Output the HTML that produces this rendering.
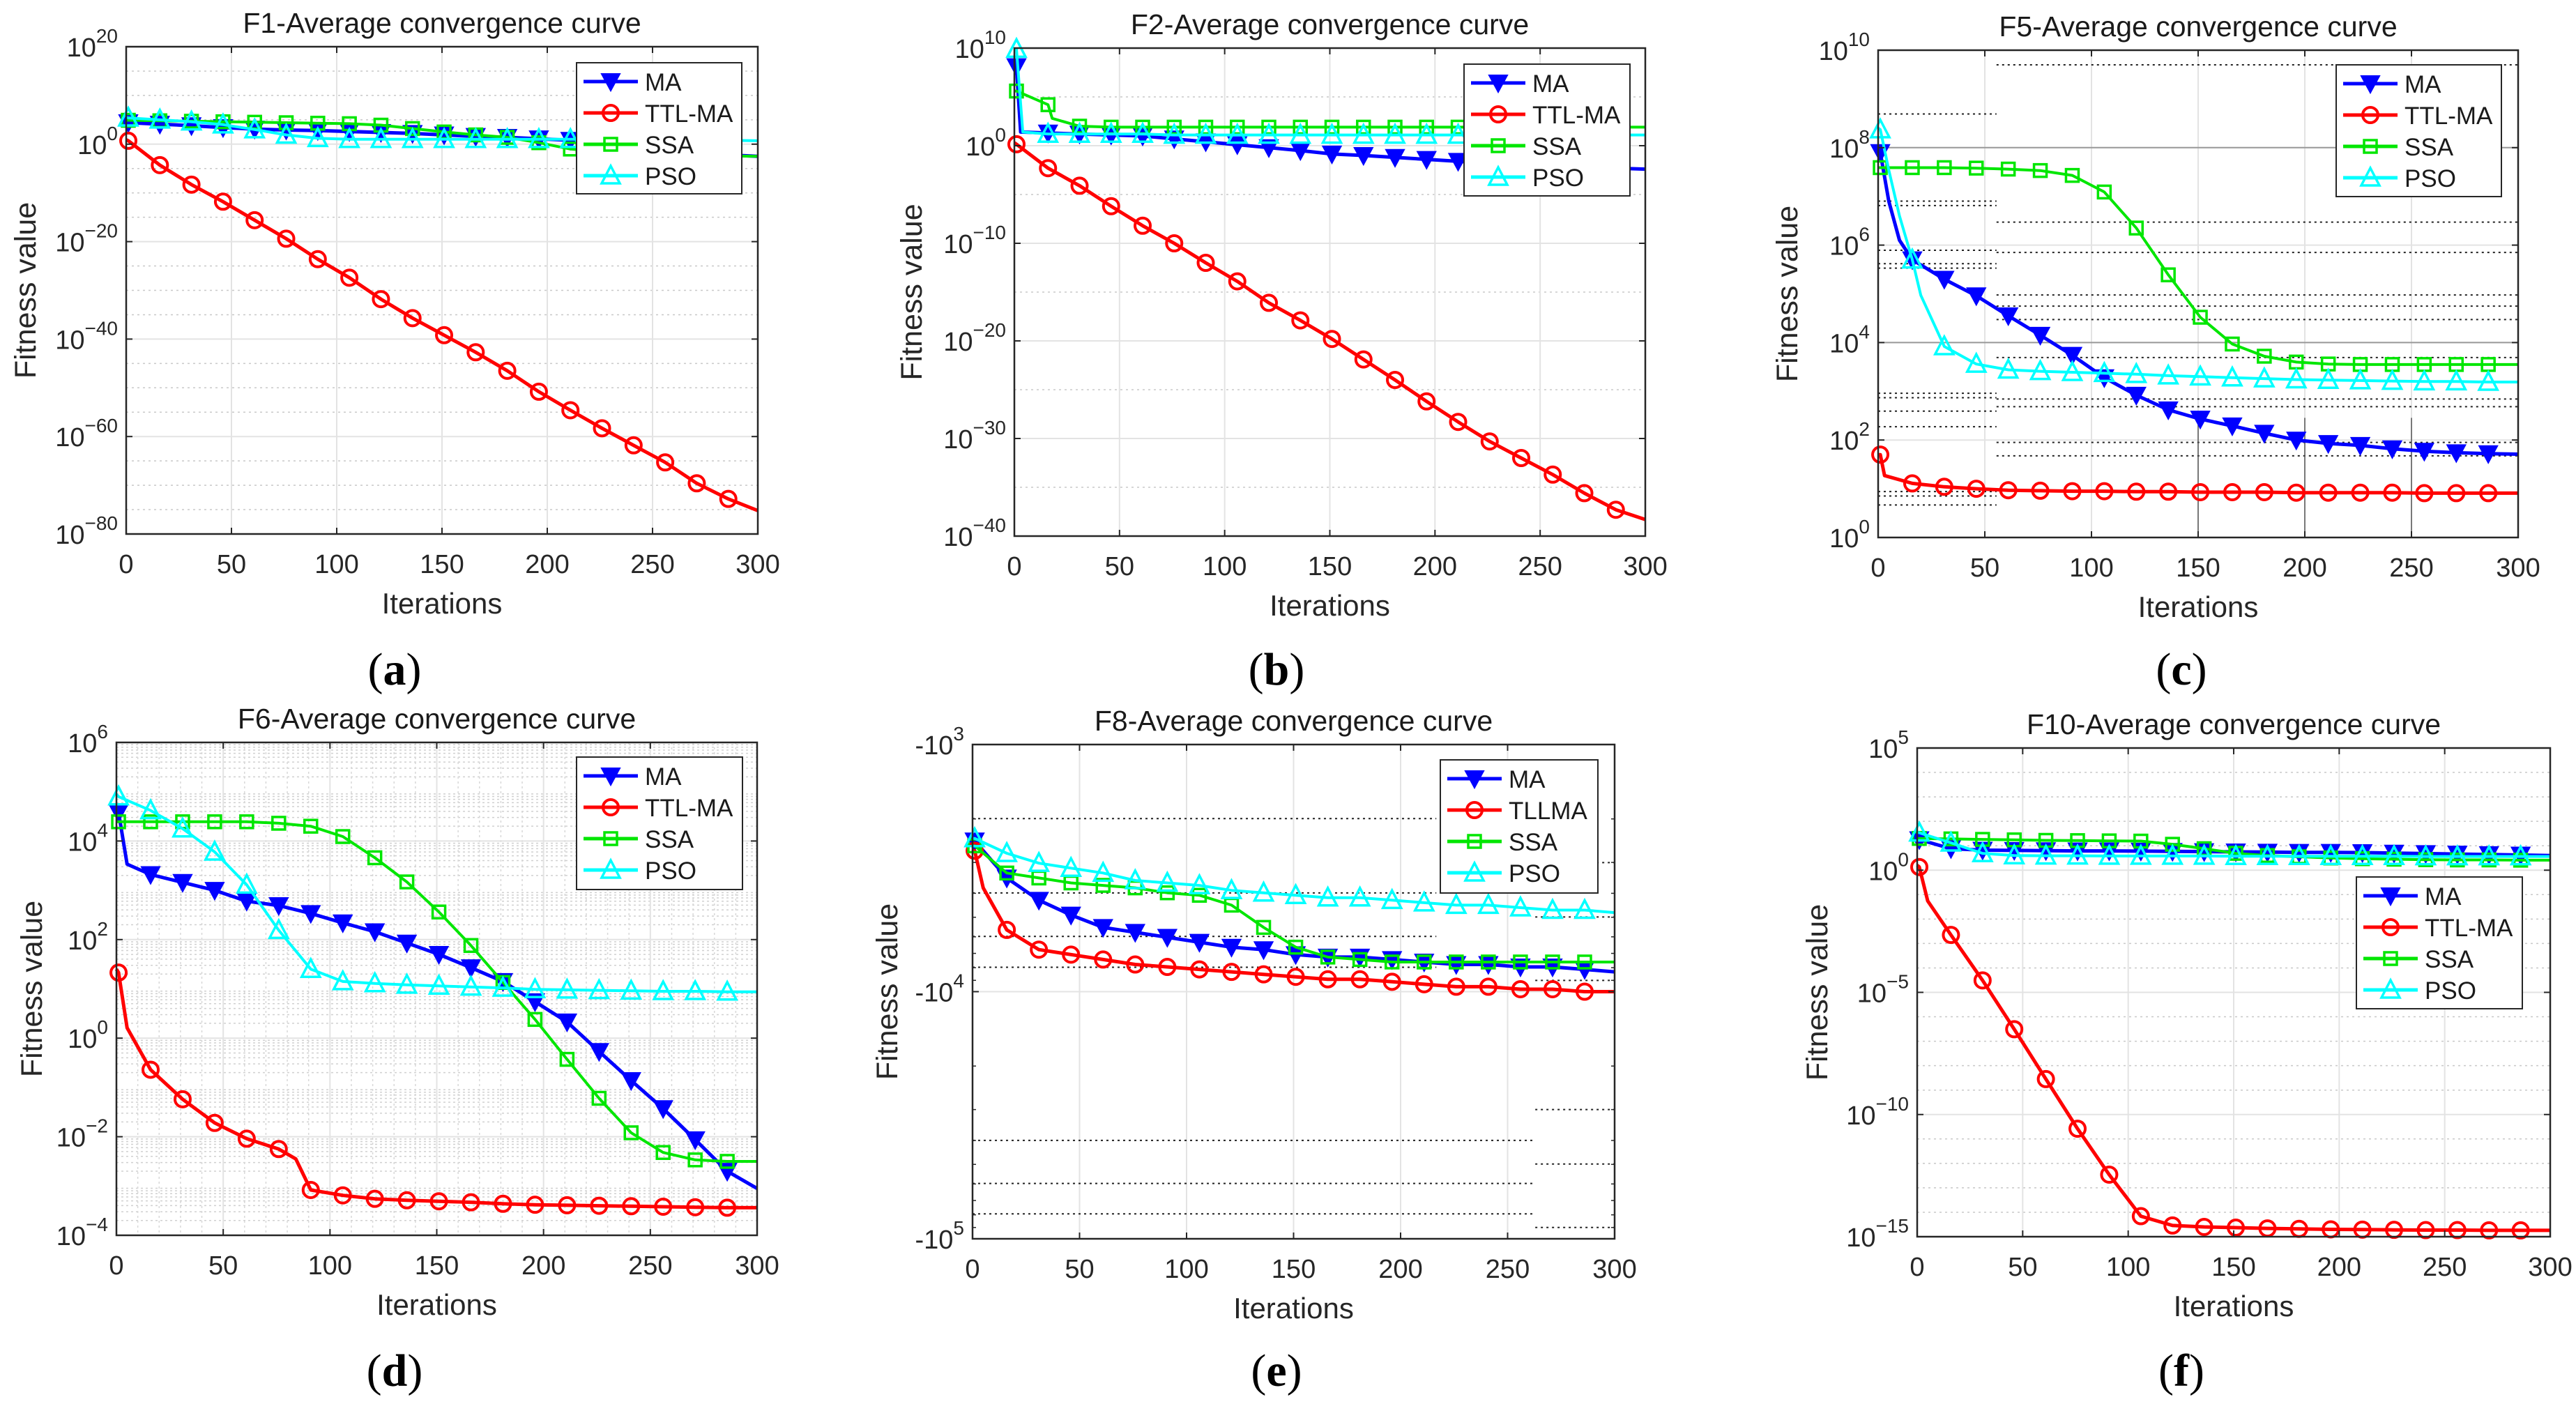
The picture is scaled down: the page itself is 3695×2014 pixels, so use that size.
<!DOCTYPE html>
<html><head><meta charset="utf-8"><title>Average convergence curves</title>
<style>html,body{margin:0;padding:0;background:#fff}svg{display:block}</style></head>
<body>
<svg id="fig" xmlns="http://www.w3.org/2000/svg" width="3695" height="2014" viewBox="0 0 3695 2014" font-family="'Liberation Sans', Arial, sans-serif"></svg>
<script>
// ===== DATA (log10 of fitness value; for F8 log10 of |value|, value is negative) =====
const xTicks = [0,50,100,150,200,250,300];
const seriesNames = ["MA","TTL-MA","SSA","PSO"];
const seriesNamesE = ["MA","TLLMA","SSA","PSO"];

// F1
const a_ma_x  = [0,1,16,31,46,61,76,91,106,121,136,151,166,181,196,211,226,241,256,271,286,300];
const a_ma_y  = [4.5,4.4,4.1,3.8,3.4,3.1,2.9,2.8,2.6,2.4,2.2,1.9,1.6,1.4,1.1,0.8,0.3,-0.5,-1.2,-1.8,-2.2,-2.5];
const a_ttl_x = [0,1,16,31,46,61,76,91,106,121,136,151,166,181,196,211,226,241,256,271,286,300];
const a_ttl_y = [0.9,0.7,-4.3,-8.3,-11.8,-15.6,-19.4,-23.6,-27.4,-31.8,-35.7,-39.2,-42.7,-46.5,-50.8,-54.6,-58.3,-61.8,-65.3,-69.6,-72.8,-75.2];
const a_ssa_x = [0,1,16,31,46,61,76,91,106,121,136,151,166,181,196,211,226,241,256,271,286,300];
const a_ssa_y = [4.9,4.9,4.8,4.7,4.6,4.5,4.4,4.3,4.2,3.9,3.2,2.5,1.9,1.4,0.3,-1.0,-1.6,-2.0,-2.2,-2.3,-2.4,-2.5];
const a_pso_x = [0,1,16,31,46,61,76,91,106,121,136,151,166,181,196,211,226,241,256,271,286,300];
const a_pso_y = [5.5,5.4,5.0,4.6,4.0,3.0,1.9,1.2,1.0,1.0,1.0,1.0,1.0,1.0,1.0,1.0,1.0,0.9,0.9,0.8,0.8,0.7];
// F2
const b_ma_x  = [0,1,3,16,31,46,61,76,91,106,121,136,151,166,181,196,211,226,241,256,271,286,300];
const b_ma_y  = [8.5,8.1,1.4,1.3,1.2,1.1,1.0,0.7,0.4,0.1,-0.2,-0.5,-0.85,-1.0,-1.2,-1.4,-1.6,-1.8,-2.0,-2.1,-2.2,-2.3,-2.4];
const b_ttl_x = [0,1,16,31,46,61,76,91,106,121,136,151,166,181,196,211,226,241,256,271,286,300];
const b_ttl_y = [0.3,0.15,-2.3,-4.1,-6.2,-8.2,-10.0,-12.0,-13.9,-16.1,-17.9,-19.8,-21.9,-24.0,-26.2,-28.3,-30.3,-32.0,-33.7,-35.6,-37.3,-38.3];
const b_ssa_x = [0,1,16,18,31,46,61,76,91,106,121,136,151,166,181,196,211,226,241,256,271,286,300];
const b_ssa_y = [5.6,5.6,4.2,2.8,2.0,1.9,1.9,1.9,1.9,1.9,1.9,1.9,1.9,1.9,1.9,1.9,1.9,1.9,1.9,1.9,1.9,1.9,1.9];
const b_pso_x = [0,1,4,16,31,46,61,76,91,106,121,136,151,166,181,196,211,226,241,256,271,286,300];
const b_pso_y = [9.9,9.9,1.4,1.2,1.2,1.2,1.2,1.1,1.1,1.1,1.1,1.1,1.1,1.1,1.1,1.1,1.1,1.1,1.1,1.1,1.1,1.1,1.1];
// F5
const c_ma_x  = [0,1,5,10,16,31,46,61,76,91,106,121,136,151,166,181,196,211,226,241,256,271,286,300];
const c_ma_y  = [8.0,7.9,6.9,6.1,5.7,5.3,4.96,4.55,4.15,3.74,3.28,2.92,2.62,2.43,2.29,2.14,2.0,1.93,1.89,1.82,1.77,1.74,1.72,1.71];
const c_ttl_x = [0,1,3,16,31,46,61,76,91,106,121,136,151,166,181,196,211,226,241,256,271,286,300];
const c_ttl_y = [1.7,1.7,1.27,1.11,1.04,1.0,0.97,0.96,0.95,0.95,0.94,0.94,0.93,0.93,0.93,0.92,0.92,0.92,0.92,0.91,0.91,0.91,0.91];
const c_ssa_x = [0,1,16,31,46,61,76,91,106,121,136,151,166,181,196,211,226,241,256,271,286,300];
const c_ssa_y = [7.59,7.59,7.59,7.59,7.58,7.56,7.53,7.43,7.09,6.35,5.39,4.52,3.97,3.72,3.6,3.56,3.55,3.55,3.55,3.55,3.55,3.55];
const c_pso_x = [0,1,5,10,16,20,31,46,61,76,91,106,121,136,151,166,181,196,211,226,241,256,271,286,300];
const c_pso_y = [8.4,8.37,7.54,6.6,5.7,4.97,3.92,3.56,3.44,3.41,3.39,3.37,3.35,3.32,3.3,3.28,3.26,3.24,3.23,3.22,3.21,3.2,3.2,3.19,3.19];
// F6
const d_ma_x  = [0,1,5,16,31,46,61,76,91,106,121,136,151,166,181,196,211,226,241,256,271,286,300];
const d_ma_y  = [4.6,4.58,3.53,3.32,3.16,3.0,2.78,2.69,2.53,2.34,2.16,1.93,1.7,1.43,1.15,0.74,0.33,-0.27,-0.86,-1.43,-2.06,-2.7,-3.05];
const d_ttl_x = [0,1,5,16,31,46,61,76,84,91,106,121,136,151,166,181,196,211,226,241,256,271,286,300];
const d_ttl_y = [1.4,1.33,0.21,-0.64,-1.24,-1.72,-2.04,-2.25,-2.45,-3.08,-3.19,-3.26,-3.29,-3.31,-3.33,-3.36,-3.38,-3.39,-3.4,-3.41,-3.42,-3.43,-3.44,-3.44];
const d_ssa_x = [0,1,16,31,46,61,76,91,106,121,136,151,166,181,196,211,226,241,256,271,286,300];
const d_ssa_y = [4.39,4.39,4.39,4.39,4.39,4.39,4.36,4.3,4.09,3.66,3.17,2.56,1.88,1.13,0.38,-0.43,-1.22,-1.92,-2.32,-2.47,-2.5,-2.5];
const d_pso_x = [0,1,16,31,46,61,76,91,106,121,136,151,166,181,196,211,226,241,256,271,286,300];
const d_pso_y = [4.95,4.9,4.62,4.25,3.78,3.11,2.19,1.4,1.15,1.11,1.08,1.06,1.04,1.02,0.99,0.98,0.97,0.96,0.95,0.95,0.94,0.94];
// F8 (log10 of |fitness|)
const e_ma_x  = [0,1,16,31,46,61,76,91,106,121,136,151,166,181,196,211,226,241,256,271,286,300];
const e_ma_y  = [3.39,3.39,3.54,3.63,3.69,3.74,3.76,3.78,3.8,3.82,3.83,3.85,3.86,3.86,3.87,3.88,3.89,3.89,3.9,3.9,3.91,3.92];
const e_ttl_x = [0,1,5,16,31,46,61,76,91,106,121,136,151,166,181,196,211,226,241,256,271,286,300];
const e_ttl_y = [3.43,3.43,3.58,3.75,3.83,3.85,3.87,3.89,3.9,3.91,3.92,3.93,3.94,3.95,3.95,3.96,3.97,3.98,3.98,3.99,3.99,4.0,4.0];
const e_ssa_x = [0,1,16,31,46,61,76,91,106,121,136,151,166,181,196,211,226,241,256,271,286,300];
const e_ssa_y = [3.41,3.41,3.52,3.54,3.56,3.57,3.58,3.6,3.61,3.65,3.74,3.82,3.86,3.87,3.88,3.88,3.88,3.88,3.88,3.88,3.88,3.88];
const e_pso_x = [0,1,16,31,46,61,76,91,106,121,136,151,166,181,196,211,226,241,256,271,286,300];
const e_pso_y = [3.38,3.38,3.44,3.48,3.5,3.52,3.55,3.56,3.57,3.59,3.6,3.61,3.62,3.62,3.63,3.64,3.65,3.65,3.66,3.67,3.67,3.68];
// F10
const f_ma_x  = [0,1,16,31,46,61,76,91,106,121,136,151,166,181,196,211,226,241,256,271,286,300];
const f_ma_y  = [1.25,1.25,0.88,0.82,0.81,0.8,0.79,0.79,0.78,0.77,0.76,0.75,0.74,0.73,0.73,0.72,0.7,0.68,0.66,0.64,0.62,0.6];
const f_ttl_x = [0,1,5,16,31,46,61,76,91,106,121,136,151,166,181,196,211,226,241,256,271,286,300];
const f_ttl_y = [0.2,0.13,-1.26,-2.65,-4.51,-6.51,-8.55,-10.58,-12.46,-14.16,-14.54,-14.6,-14.63,-14.66,-14.68,-14.7,-14.71,-14.72,-14.73,-14.73,-14.74,-14.74,-14.74];
const f_ssa_x = [0,1,16,31,46,61,76,91,106,121,136,151,166,181,196,211,226,241,256,271,286,300];
const f_ssa_y = [1.3,1.3,1.28,1.26,1.24,1.22,1.21,1.2,1.19,1.06,0.88,0.69,0.6,0.55,0.5,0.47,0.45,0.43,0.42,0.42,0.41,0.41];
const f_pso_x = [0,1,16,31,46,61,76,91,106,121,136,151,166,181,196,211,226,241,256,271,286,300];
const f_pso_y = [1.55,1.53,1.12,0.69,0.6,0.59,0.59,0.58,0.58,0.58,0.58,0.57,0.57,0.57,0.57,0.57,0.57,0.56,0.56,0.56,0.56,0.56];

// ===== RENDERING =====
const NS = "http://www.w3.org/2000/svg";
const svg = document.getElementById("fig");
function mk(tag, attrs, parent){ const e=document.createElementNS(NS,tag); for(const k in attrs) e.setAttribute(k,attrs[k]); (parent||svg).appendChild(e); return e; }
const COL = {MA:"#0000ff", TTL:"#ff0000", SSA:"#00e600", PSO:"#00ffff"};
const STY = ["ma","ttl","ssa","pso"];
const STYCOL = [COL.MA,COL.TTL,COL.SSA,COL.PSO];

function marker(g, kind, cx, cy, color){
  let m;
  if(kind==="ma"){ m=mk("polygon",{points:`${cx-13},${cy-11} ${cx+13},${cy-11} ${cx},${cy+13}`,fill:color,stroke:color,"stroke-width":2},g); }
  else if(kind==="ttl"){ m=mk("circle",{cx:cx,cy:cy,r:11,fill:"none",stroke:color,"stroke-width":4},g); }
  else if(kind==="ssa"){ m=mk("rect",{x:cx-9,y:cy-9,width:18,height:18,fill:"none",stroke:color,"stroke-width":3.5},g); }
  else { m=mk("polygon",{points:`${cx-13},${cy+11} ${cx+13},${cy+11} ${cx},${cy-14}`,fill:"none",stroke:color,"stroke-width":3.5},g); }
  return m;
}

const panels = [
 {id:"a", title:"F1-Average convergence curve", L:181,R:1087,T:67,B:766, ymin:-80,ymax:20,step:20,minor:5, names:seriesNames,
  leg:[827,90,1064,278], ylx:36, lab:"(a)", labx:566, row:0,
  data:[[a_ma_x,a_ma_y],[a_ttl_x,a_ttl_y],[a_ssa_x,a_ssa_y],[a_pso_x,a_pso_y]]},
 {id:"b", title:"F2-Average convergence curve", L:1455,R:2360,T:69,B:769, ymin:-40,ymax:10,step:10,minor:5, names:seriesNames,
  leg:[2100,92,2338,281], ylx:1307, lab:"(b)", labx:1831, row:0,
  data:[[b_ma_x,b_ma_y],[b_ttl_x,b_ttl_y],[b_ssa_x,b_ssa_y],[b_pso_x,b_pso_y]]},
 {id:"c", title:"F5-Average convergence curve", L:2694,R:3612,T:72,B:771, ymin:0,ymax:10,step:2,minor:0, names:seriesNames,
  leg:[3351,93,3588,282], ylx:2563, lab:"(c)", labx:3129, row:0,
  data:[[c_ma_x,c_ma_y],[c_ttl_x,c_ttl_y],[c_ssa_x,c_ssa_y],[c_pso_x,c_pso_y]]},
 {id:"d", title:"F6-Average convergence curve", L:167,R:1086,T:1065,B:1772, ymin:-4,ymax:6,step:2,minor:-1, names:seriesNames,
  leg:[827,1086,1065,1276], ylx:45, lab:"(d)", labx:566, row:1,
  data:[[d_ma_x,d_ma_y],[d_ttl_x,d_ttl_y],[d_ssa_x,d_ssa_y],[d_pso_x,d_pso_y]]},
 {id:"e", title:"F8-Average convergence curve", L:1395,R:2316,T:1068,B:1777, ymin:3,ymax:5,step:1,minor:0, neg:true, names:seriesNamesE,
  leg:[2066,1090,2292,1281], ylx:1272, lab:"(e)", labx:1831, row:1,
  data:[[e_ma_x,e_ma_y],[e_ttl_x,e_ttl_y],[e_ssa_x,e_ssa_y],[e_pso_x,e_pso_y]]},
 {id:"f", title:"F10-Average convergence curve", L:2750,R:3658,T:1073,B:1774, ymin:-15,ymax:5,step:5,minor:1, names:seriesNames,
  leg:[3380,1258,3618,1447], ylx:2606, lab:"(f)", labx:3129, row:1,
  data:[[f_ma_x,f_ma_y],[f_ttl_x,f_ttl_y],[f_ssa_x,f_ssa_y],[f_pso_x,f_pso_y]]}
];

panels.forEach(p=>{
  const g = mk("g",{});
  
  
  const xs = v => p.L + (v/300)*(p.R-p.L);
  const ys = p.neg ? (k => p.T + (k-p.ymin)/(p.ymax-p.ymin)*(p.B-p.T))
                   : (k => p.B - (k-p.ymin)/(p.ymax-p.ymin)*(p.B-p.T));
  // grid
  const grid = mk("g",{},g);
  
  
  if(p.minor===-1){
    for(let d=p.ymin; d<p.ymax; d++) for(let m=2;m<10;m++){ const y=ys(d+Math.log10(m)); mk("line",{x1:p.L,x2:p.R,y1:y,y2:y,stroke:"#d0d0d0","stroke-width":1.5,"stroke-dasharray":"3,4"},grid); }
    for(let v=10; v<300; v+=10){ if(v%50) { const x=xs(v); mk("line",{x1:x,x2:x,y1:p.T,y2:p.B,stroke:"#d8d8d8","stroke-width":1.5,"stroke-dasharray":"3,4"},grid);} }
  } else if(p.minor>0){
    for(let d=p.ymin; d<p.ymax; d+=p.minor){ if((d-p.ymin)%p.step){ const y=ys(d); mk("line",{x1:p.L,x2:p.R,y1:y,y2:y,stroke:"#c8c8c8","stroke-width":1.5,"stroke-dasharray":"3,5"},grid);} }
  }
  for(let d=p.ymin; d<=p.ymax; d+=p.step){ const y=ys(d); mk("line",{x1:p.L,x2:p.R,y1:y,y2:y,stroke:"#e3e3e3","stroke-width":2},grid); }
  xTicks.forEach(v=>{ const x=xs(v); mk("line",{x1:x,x2:x,y1:p.T,y2:p.B,stroke:"#e3e3e3","stroke-width":2},grid); });
  // odd dotted lines (c, e)
  if(p.id==="c"){
    const full=[145,497,565,660,685,715,800,893,910,990,1020], left=[255,450,460,560,590,600,880,890,920,955,1100,1110,1130];
    const fy=z=>z/1.56, fx=z=>2460+z/1.263;
    full.forEach(z=>mk("line",{x1:fx(510),x2:p.R,y1:fy(z),y2:fy(z),stroke:"#222","stroke-width":2,"stroke-dasharray":"3,5"},grid));
    left.forEach(z=>mk("line",{x1:p.L,x2:fx(510),y1:fy(z),y2:fy(z),stroke:"#222","stroke-width":2,"stroke-dasharray":"3,5"},grid));
    [ys(8),ys(4)].forEach(y=>mk("line",{x1:p.L,x2:p.R,y1:y,y2:y,stroke:"#999","stroke-width":2},grid));
    [150,200,250].forEach(v=>mk("line",{x1:xs(v),x2:xs(v),y1:fy(935),y2:p.B,stroke:"#555","stroke-width":1.5},grid));
  }
  if(p.id==="e"){
    const fy=z=>1000+z/1.538, fx=z=>1240+z/1.268;
    [268,432,528,596].forEach(z=>mk("line",{x1:p.L,x2:fx(1040),y1:fy(z),y2:fy(z),stroke:"#222","stroke-width":2,"stroke-dasharray":"3,5"},grid));
    [978,1073,1140].forEach(z=>mk("line",{x1:p.L,x2:fx(1215),y1:fy(z),y2:fy(z),stroke:"#222","stroke-width":2,"stroke-dasharray":"3,5"},grid));
    [365,485,625,910,1030,1170].forEach(z=>mk("line",{x1:fx(1220),x2:p.R,y1:fy(z),y2:fy(z),stroke:"#222","stroke-width":2,"stroke-dasharray":"3,5"},grid));
  }
  // series
  p.data.forEach((s,i)=>{
    const sg = mk("g",{},g);
    
    
    const pts = s[0].map((x,j)=>xs(x).toFixed(1)+","+ys(s[1][j]).toFixed(1)).join(" ");
    mk("polyline",{points:pts,fill:"none",stroke:STYCOL[i],"stroke-width":i===0||i===1?5:4,"stroke-linejoin":"round"},sg);
    s[0].forEach((x,j)=>{ if(x%15===1){ const m=marker(sg,STY[i],xs(x),ys(s[1][j]),STYCOL[i]);
      
       } });
  });
  // axes box
  const box = mk("rect",{x:p.L,y:p.T,width:p.R-p.L,height:p.B-p.T,fill:"none",stroke:"#262626","stroke-width":2.5},g);
  
  
  // x ticks
  xTicks.forEach(v=>{ const x=xs(v);
    mk("line",{x1:x,x2:x,y1:p.B,y2:p.B-9,stroke:"#262626","stroke-width":2},g);
    mk("line",{x1:x,x2:x,y1:p.T,y2:p.T+9,stroke:"#262626","stroke-width":2},g);
    const t=mk("text",{x:x,y:p.B+56,"font-size":38,"text-anchor":"middle",fill:"#262626"},g); t.textContent=v;
    
    
  });
  // y ticks
  for(let d=p.ymin; d<=p.ymax; d+=p.step){ const y=ys(d);
    mk("line",{x1:p.L,x2:p.L+9,y1:y,y2:y,stroke:"#262626","stroke-width":2},g);
    mk("line",{x1:p.R,x2:p.R-9,y1:y,y2:y,stroke:"#262626","stroke-width":2},g);
    const t=mk("text",{x:p.L-12,y:y+14,"font-size":38,"text-anchor":"end",fill:"#262626"},g);
    
    
    const b=mk("tspan",{},t); b.textContent=(p.neg?"-":"")+"10";
    const e=mk("tspan",{dy:-20,"font-size":28},t); e.textContent=String(d).replace("-","\u2212");
  }
  if(p.neg){ for(let d=p.ymin; d<p.ymax; d++) for(let m=2;m<10;m++){ const y=ys(d+Math.log10(m));
    mk("line",{x1:p.L,x2:p.L+5,y1:y,y2:y,stroke:"#262626","stroke-width":1.5},g);
    mk("line",{x1:p.R,x2:p.R-5,y1:y,y2:y,stroke:"#262626","stroke-width":1.5},g);} }
  // title / labels
  const cx=(p.L+p.R)/2;
  const ti=mk("text",{x:cx,y:p.T-20,"font-size":41,"text-anchor":"middle",fill:"#1a1a1a"},g); ti.textContent=p.title;
  
  
  const xl=mk("text",{x:cx,y:p.B+114,"font-size":42,"text-anchor":"middle",fill:"#262626"},g); xl.textContent="Iterations";
  
  
  const ycy=(p.T+p.B)/2;
  const yl=mk("text",{x:p.ylx+15,y:ycy,"font-size":43,"text-anchor":"middle",fill:"#262626",transform:`rotate(-90 ${p.ylx+15} ${ycy})`},g); yl.textContent="Fitness value";
  
  
  const sl=mk("text",{x:p.labx,y:p.row?1988:982,"font-size":66,"text-anchor":"middle",fill:"#000","font-family":"'Liberation Serif', serif"},g);
  
  
  mk("tspan",{},sl).textContent="(";
  mk("tspan",{"font-weight":"bold"},sl).textContent=p.lab[1];
  mk("tspan",{},sl).textContent=")";
  // legend
  const [lx0,ly0,lx1,ly1]=p.leg;
  const lg=mk("g",{},g);
  
  
  mk("rect",{x:lx0,y:ly0,width:lx1-lx0,height:ly1-ly0,fill:"#fff",stroke:"#262626","stroke-width":2},lg);
  p.names.forEach((n,i)=>{ const y=ly0+27+i*45;
    const en=mk("g",{},lg);
    
    
    mk("line",{x1:lx0+10,x2:lx0+88,y1:y,y2:y,stroke:STYCOL[i],"stroke-width":5},en);
    marker(en,STY[i],lx0+49,y,STYCOL[i]);
    const t=mk("text",{x:lx0+98,y:y+13,"font-size":35,fill:"#1a1a1a"},en); t.textContent=n;
  });
});
</script>
</body></html>
